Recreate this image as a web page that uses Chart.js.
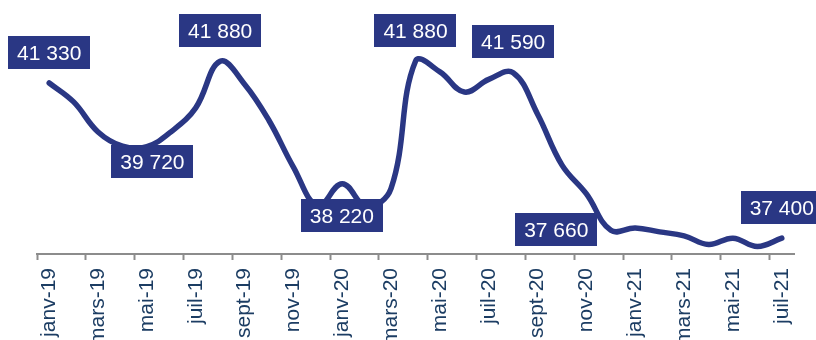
<!DOCTYPE html>
<html>
<head>
<meta charset="utf-8">
<script src="https://cdn.jsdelivr.net/npm/chart.js@4.4.1/dist/chart.umd.min.js"></script>
<style>
  html, body { margin: 0; padding: 0; background: #fff; }
</style>
</head>
<body>
<canvas id="trendChart" width="816" height="340"></canvas>
<script>
// monthly series, janv-19 .. juil-21
const months = [
  "janv-19", "févr-19", "mars-19", "avr-19", "mai-19", "juin-19", "juil-19", "août-19",
  "sept-19", "oct-19", "nov-19", "déc-19", "janv-20", "févr-20", "mars-20", "avr-20",
  "mai-20", "juin-20", "juil-20", "août-20", "sept-20", "oct-20", "nov-20", "déc-20",
  "janv-21", "févr-21", "mars-21", "avr-21", "mai-21", "juin-21", "juil-21"
];
const values = [
  41330, 40850, 40090, 39730, 39720, 40100, 40700, 41880,
  41300, 40380, 39200, 38220, 38780, 38200, 38660, 41880,
  41610, 41100, 41420, 41590, 40540, 39250, 38520, 37600,
  37660, 37560, 37460, 37240, 37400, 37190, 37400
];

// which points get a value box
const labelIdx = [0, 4, 7, 11, 15, 19, 24, 30];
// box centre offset from its point, px
const labelShiftX = [0, 5.5, 0, 24, 0, 0, -79, 0];
const labelShiftY = [-30, 15, -30.5, 10, -30.5, -31, 2, -30.5];

const NAVY = "#2a3784";
const FONT = '"Liberation Sans", Arial, sans-serif';

const fmt = (v) => String(v).replace(/\B(?=(\d{3})+(?!\d))/g, " ");

const valueBoxes = {
  id: "valueBoxes",
  afterDatasetsDraw(chart) {
    const meta = chart.getDatasetMeta(0);
    const ctx = chart.ctx;
    ctx.save();
    ctx.font = "21px " + FONT;
    ctx.textAlign = "center";
    ctx.textBaseline = "alphabetic";
    labelIdx.forEach((idx, k) => {
      const pt = meta.data[idx];
      const cx = pt.x + labelShiftX[k];
      const cy = pt.y + labelShiftY[k];
      const txt = fmt(values[idx]);
      const w = ctx.measureText(txt).width + 18;
      ctx.fillStyle = NAVY;
      ctx.fillRect(Math.round(cx - w / 2), Math.round(cy - 16.5), Math.round(w), 33);
      ctx.fillStyle = "#ffffff";
      ctx.fillText(txt, cx, cy + 7.5);
    });
    ctx.restore();
  }
};

new Chart(document.getElementById("trendChart"), {
  type: "line",
  data: {
    labels: months,
    datasets: [{
      data: values,
      borderColor: NAVY,
      borderWidth: 5.5,
      borderCapStyle: "round",
      borderJoinStyle: "round",
      tension: 0.4,
      pointRadius: 0,
      fill: false
    }]
  },
  options: {
    responsive: false,
    animation: false,
    devicePixelRatio: 1,
    layout: { padding: { left: 37, right: 22, top: 17, bottom: 0 } },
    plugins: { legend: { display: false }, tooltip: { enabled: false } },
    scales: {
      y: { display: false, min: 37000, max: 43000 },
      x: {
        offset: true,
        grid: {
          offset: true,
          drawOnChartArea: false,
          drawTicks: true,
          tickLength: 6,
          tickWidth: 2,
          tickColor: (c) => (c.index % 2 === 0 ? "#8c8c8c" : "rgba(0,0,0,0)")
        },
        border: { display: true, color: "#8c8c8c", width: 2 },
        ticks: {
          autoSkip: false,
          minRotation: 90,
          maxRotation: 90,
          padding: 8,
          color: "#1c3d63",
          font: { family: FONT, size: 21 },
          callback: (v, i) => (i % 2 === 0 ? months[i] : "")
        },
        afterFit: (s) => { s.height = 86; }
      }
    }
  },
  plugins: [valueBoxes]
});
</script>
</body>
</html>
